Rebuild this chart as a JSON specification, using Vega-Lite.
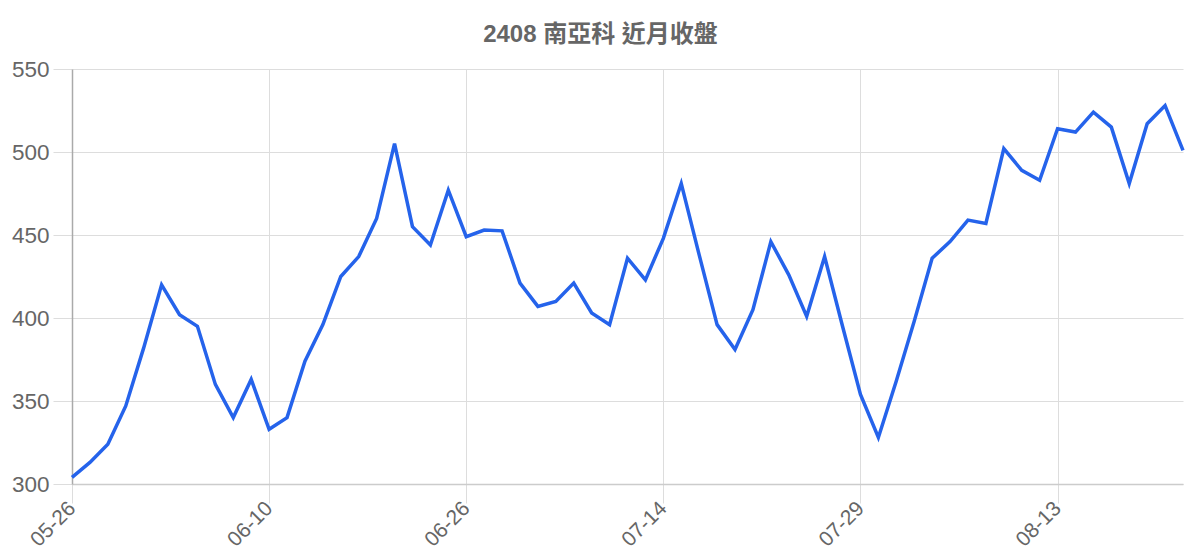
{
  "$schema": "https://vega.github.io/schema/vega-lite/v6.json",
  "autosize": {"type": "none"},
  "width": 1111,
  "height": 415,
  "padding": {"left": 72, "top": 69, "right": 17, "bottom": 76},
  "background": "white",
  "config": {
    "font": "Liberation Sans, Noto Sans CJK TC, sans-serif",
    "view": {"stroke": null}
  },
  "title": {
    "text": "2408 南亞科 近月收盤",
    "fontSize": 24,
    "fontWeight": "bold",
    "color": "#666666",
    "anchor": "middle",
    "dx": -27,
    "offset": 11,
    "font": "Liberation Sans, Noto Sans CJK TC, sans-serif"
  },
  "data": {
    "values": [
      {"date": "05-26", "close": 304},
      {"date": "05-27", "close": 313},
      {"date": "05-28", "close": 324},
      {"date": "05-29", "close": 347},
      {"date": "05-30", "close": 382},
      {"date": "06-02", "close": 420},
      {"date": "06-03", "close": 402},
      {"date": "06-04", "close": 395},
      {"date": "06-05", "close": 360},
      {"date": "06-06", "close": 340},
      {"date": "06-09", "close": 363},
      {"date": "06-10", "close": 333},
      {"date": "06-11", "close": 340},
      {"date": "06-12", "close": 374},
      {"date": "06-13", "close": 396},
      {"date": "06-16", "close": 425},
      {"date": "06-17", "close": 437},
      {"date": "06-18", "close": 460},
      {"date": "06-19", "close": 505},
      {"date": "06-20", "close": 455},
      {"date": "06-23", "close": 444},
      {"date": "06-24", "close": 477},
      {"date": "06-26", "close": 449},
      {"date": "06-27", "close": 453},
      {"date": "06-30", "close": 452.5},
      {"date": "07-01", "close": 421},
      {"date": "07-02", "close": 407},
      {"date": "07-03", "close": 410},
      {"date": "07-04", "close": 421},
      {"date": "07-07", "close": 403},
      {"date": "07-08", "close": 396},
      {"date": "07-09", "close": 436},
      {"date": "07-10", "close": 423},
      {"date": "07-14", "close": 448},
      {"date": "07-15", "close": 481},
      {"date": "07-16", "close": 438},
      {"date": "07-17", "close": 396},
      {"date": "07-18", "close": 381},
      {"date": "07-21", "close": 405},
      {"date": "07-22", "close": 446},
      {"date": "07-23", "close": 426},
      {"date": "07-24", "close": 401},
      {"date": "07-25", "close": 437},
      {"date": "07-28", "close": 395},
      {"date": "07-29", "close": 354},
      {"date": "07-30", "close": 328},
      {"date": "07-31", "close": 362},
      {"date": "08-01", "close": 398},
      {"date": "08-04", "close": 436},
      {"date": "08-05", "close": 446},
      {"date": "08-06", "close": 459},
      {"date": "08-07", "close": 457},
      {"date": "08-08", "close": 502},
      {"date": "08-11", "close": 489},
      {"date": "08-12", "close": 483},
      {"date": "08-13", "close": 514},
      {"date": "08-14", "close": 512},
      {"date": "08-15", "close": 524},
      {"date": "08-18", "close": 515},
      {"date": "08-19", "close": 481},
      {"date": "08-20", "close": 517},
      {"date": "08-21", "close": 528},
      {"date": "08-22", "close": 501}
    ]
  },
  "mark": {"type": "line", "color": "#2563eb", "strokeWidth": 3.5, "strokeJoin": "miter"},
  "encoding": {
    "x": {
      "field": "date",
      "type": "ordinal",
      "sort": null,
      "scale": {"type": "point", "padding": 0},
      "axis": {
        "title": null,
        "values": ["05-26", "06-10", "06-26", "07-14", "07-29", "08-13"],
        "labelAngle": -45,
        "labelAlign": "right",
        "labelBaseline": "middle",
        "labelFontSize": 21,
        "labelColor": "#666666",
        "labelPadding": 2,
        "tickSize": 19,
        "tickColor": "#dddddd",
        "grid": true,
        "gridColor": "#dddddd",
        "domainColor": "#cccccc",
        "domainWidth": 1.5
      }
    },
    "y": {
      "field": "close",
      "type": "quantitative",
      "scale": {"domain": [300, 550], "nice": false, "zero": false},
      "axis": {
        "title": null,
        "values": [300, 350, 400, 450, 500, 550],
        "labelFontSize": 22.5,
        "labelColor": "#666666",
        "labelPadding": 4,
        "tickSize": 19,
        "tickColor": "#dddddd",
        "grid": true,
        "gridColor": "#dddddd",
        "domainColor": "#aaaaaa",
        "domainWidth": 1.5
      }
    }
  }
}
